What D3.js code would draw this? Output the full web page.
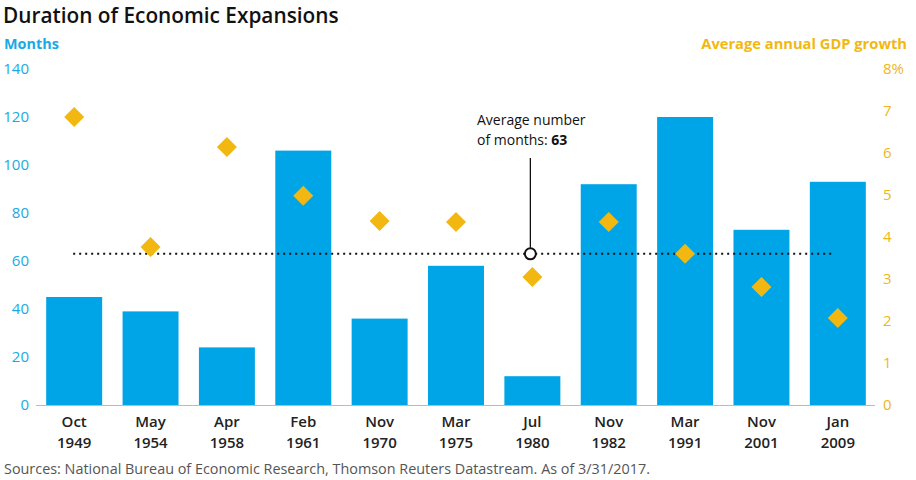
<!DOCTYPE html>
<html lang="en">
<head>
<meta charset="UTF-8">
<title>Duration of Economic Expansions</title>
<script src="https://cdn.jsdelivr.net/npm/d3@7"></script>
<style>
    body { margin: 0; background: #fff; }
    text { font-family: "Open Sans", Lato, sans-serif; }
    .left-axis text { fill: #1aa9e4; font-size: 15px; font-family: "Open Sans", sans-serif; }
    .right-axis text { fill: #f0b619; font-size: 15px; font-family: "Open Sans", sans-serif; }
    .x-lbl { font-weight: 600; font-size: 15px; fill: #222; }
</style>
</head>
<body>
<script>
    var w = 916;
    var h = 480;

    var months = ["Oct", "May", "Apr", "Feb", "Nov", "Mar", "Jul", "Nov", "Mar", "Nov", "Jan"];
    var years = ["1949", "1954", "1958", "1961", "1970", "1975", "1980", "1982", "1991", "2001", "2009"];
    var durations = [45, 39, 24, 106, 36, 58, 12, 92, 120, 73, 93];
    var gdpGrowth = [6.86, 3.76, 6.14, 4.98, 4.38, 4.36, 3.05, 4.36, 3.6, 2.81, 2.07];
    var leftTicks = [0, 20, 40, 60, 80, 100, 120, 140];
    var rightTicks = [0, 1, 2, 3, 4, 5, 6, 7, 8];
    var avgMonths = 63;

    var blue = "#00a5e8";
    var gold = "#f2b811";

    var x = d3.scaleBand()
        .domain(d3.range(months.length))
        .range([36, 876])
        .paddingInner(0.267)
        .paddingOuter(0.1335);

    var yLeft = d3.scaleLinear().domain([0, 140]).range([405, 69]);
    var yRight = d3.scaleLinear().domain([0, 8]).range([405, 69]);

    var svg = d3.select("body").append("svg")
        .attr("width", w)
        .attr("height", h);

    // title and axis titles
    svg.append("text").attr("x", 3).attr("y", 23)
        .attr("font-size", "20.8px").attr("font-weight", 600).attr("fill", "#111")
        .text("Duration of Economic Expansions");
    svg.append("text").attr("x", 4).attr("y", 49)
        .attr("font-size", "14.4px").attr("font-weight", "bold").attr("fill", "#1aa9e4")
        .text("Months");
    svg.append("text").attr("x", 907).attr("y", 49).attr("text-anchor", "end")
        .attr("font-size", "14.7px").attr("font-weight", "bold").attr("fill", gold)
        .text("Average annual GDP growth");

    // axes (labels only)
    var leftAxis = svg.append("g").attr("class", "left-axis")
        .attr("transform", "translate(29,0)")
        .call(d3.axisLeft(yLeft).tickValues(leftTicks).tickSize(0).tickPadding(0));
    leftAxis.select(".domain").remove();

    var rightAxis = svg.append("g").attr("class", "right-axis")
        .attr("transform", "translate(883,0)")
        .call(d3.axisRight(yRight).tickValues(rightTicks).tickSize(0).tickPadding(0)
            .tickFormat(function (d) { return d === 8 ? "8%" : d; }));
    rightAxis.select(".domain").remove();

    // bars
    svg.selectAll("rect.bar")
        .data(durations)
        .enter()
        .append("rect")
        .attr("class", "bar")
        .attr("x", function (d, i) { return x(i); })
        .attr("y", function (d) { return yLeft(d); })
        .attr("width", x.bandwidth())
        .attr("height", function (d) { return yLeft(0) - yLeft(d); })
        .attr("fill", blue);

    // baseline
    svg.append("line")
        .attr("x1", 36).attr("x2", 875)
        .attr("y1", yLeft(0) + 0.5).attr("y2", yLeft(0) + 0.5)
        .attr("stroke", "#bbb").attr("stroke-width", 1);

    // average line
    var cx0 = x(0) + x.bandwidth() / 2 - 1;
    var cx1 = x(months.length - 1) + x.bandwidth() / 2 - 5;
    svg.append("line")
        .attr("x1", cx0).attr("x2", cx1)
        .attr("y1", yLeft(avgMonths)).attr("y2", yLeft(avgMonths))
        .attr("stroke", "#111").attr("stroke-width", 2)
        .attr("stroke-dasharray", "2,4");

    // diamonds
    svg.selectAll("path.gdp")
        .data(gdpGrowth)
        .enter()
        .append("path")
        .attr("class", "gdp")
        .attr("d", d3.symbol().type(d3.symbolSquare).size(200))
        .attr("transform", function (d, i) {
            return "translate(" + (x(i) + x.bandwidth() / 2) + "," + yRight(d) + ") rotate(45)";
        })
        .attr("fill", gold);

    // annotation
    var ax = x(6) + x.bandwidth() / 2 - 2;
    svg.append("line")
        .attr("x1", ax).attr("x2", ax)
        .attr("y1", 158).attr("y2", yLeft(avgMonths) - 6)
        .attr("stroke", "#111").attr("stroke-width", 1.3);
    svg.append("circle")
        .attr("cx", ax).attr("cy", yLeft(avgMonths))
        .attr("r", 5.5)
        .attr("fill", "#fff").attr("stroke", "#111").attr("stroke-width", 2);
    svg.append("text").attr("x", 477).attr("y", 125)
        .attr("font-size", "14px").attr("fill", "#111")
        .text("Average number");
    var t2 = svg.append("text").attr("x", 477).attr("y", 144.5)
        .attr("font-size", "14px").attr("fill", "#111");
    t2.append("tspan").text("of months: ");
    t2.append("tspan").attr("font-weight", "bold").text(avgMonths);

    // x labels
    var xl = svg.selectAll("text.x-lbl")
        .data(months)
        .enter()
        .append("text")
        .attr("class", "x-lbl")
        .attr("text-anchor", "middle")
        .attr("x", function (d, i) { return x(i) + x.bandwidth() / 2; })
        .attr("y", 427);
    xl.append("tspan").text(function (d) { return d; });
    xl.append("tspan")
        .attr("x", function (d, i) { return x(i) + x.bandwidth() / 2; })
        .attr("dy", 20.6)
        .text(function (d, i) { return years[i]; });

    // footer
    svg.append("text").attr("x", 4).attr("y", 474)
        .attr("font-size", "14.4px").attr("fill", "#555")
        .text("Sources: National Bureau of Economic Research, Thomson Reuters Datastream. As of 3/31/2017.");
</script>
</body>
</html>
